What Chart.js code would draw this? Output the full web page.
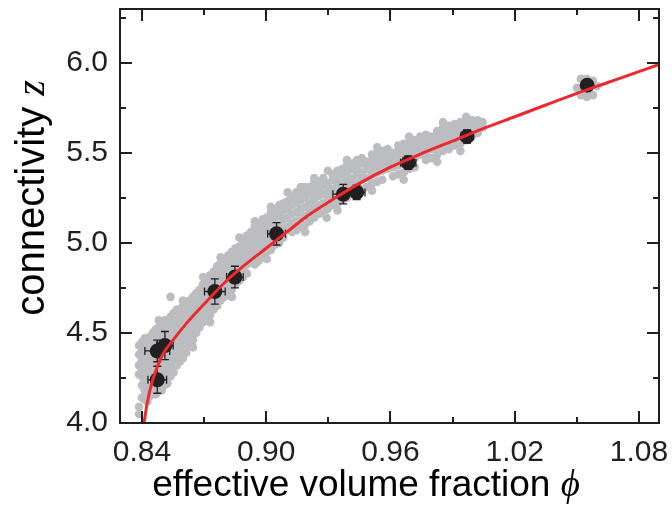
<!DOCTYPE html>
<html>
<head>
<meta charset="utf-8">
<script src="https://cdn.jsdelivr.net/npm/chart.js@4/dist/chart.umd.min.js"></script>
<style>
  html, body { margin: 0; padding: 0; background: #ffffff; }
  #wrap { width: 672px; height: 513px; }
</style>
</head>
<body>
<div id="wrap"><canvas id="c" width="672" height="513"></canvas></div>
<script>
// Axis ticks
const phiTicks = [0.84, 0.90, 0.96, 1.02, 1.08];
const phiMinor = [0.87, 0.93, 0.99, 1.05];
const zTicks = [4.0, 4.5, 5.0, 5.5, 6.0];
const zMinor = [4.25, 4.75, 5.25, 5.75, 6.25];

// Ensemble averages with their spread
const meanPhi = [0.8474, 0.8474, 0.8511, 0.8752, 0.8849, 0.9050, 0.9372, 0.9437, 0.9686, 0.9970, 1.0550];
const meanZ   = [4.24,   4.40,   4.43,   4.73,   4.81,   5.05,   5.27,   5.28,   5.445,  5.59,   5.875];
const errPhi  = [0.0045, 0.0060, 0.0040, 0.0050, 0.0040, 0.0043, 0.0050, 0.0040, 0.0037, 0.0030, 0.0015];
const errZ    = [0.075,  0.060,  0.078,  0.070,  0.060,  0.062,  0.054,  0.040,  0.037,  0.037,  0.015];

// Fitted connectivity curve
const fitPhi = [0.8410, 0.8425, 0.8445, 0.8470, 0.8500, 0.8550, 0.8620, 0.8700, 0.8800, 0.8900, 0.9000,
                0.9100, 0.9200, 0.9300, 0.9450, 0.9600, 0.9750, 0.9900, 1.0050, 1.0200, 1.0350, 1.0500,
                1.0650, 1.0800, 1.0897];
const fitZ   = [4.00, 4.11, 4.21, 4.30, 4.38, 4.46, 4.56, 4.66, 4.78, 4.88, 4.97,
                5.06, 5.15, 5.225, 5.33, 5.42, 5.495, 5.565, 5.635, 5.70, 5.765, 5.83,
                5.89, 5.95, 5.99];

// Individual packings, grouped by volume fraction: [phi, [z, z, ...]]
const cloud = [
  [0.8386, [4.05, 4.09, 4.27, 4.32, 4.38, 4.43]],
  [0.8400, [4.14, 4.21, 4.26, 4.30, 4.35, 4.40, 4.45]],
  [0.8413, [4.13, 4.18, 4.23, 4.28, 4.33, 4.38, 4.43, 4.47]],
  [0.8426, [4.12, 4.16, 4.21, 4.26, 4.30, 4.35, 4.40, 4.46]],
  [0.8440, [4.15, 4.19, 4.24, 4.29, 4.34, 4.38, 4.43, 4.48]],
  [0.8453, [4.17, 4.22, 4.27, 4.31, 4.36, 4.41, 4.46, 4.50]],
  [0.8467, [4.16, 4.20, 4.25, 4.30, 4.34, 4.39, 4.44, 4.49, 4.52]],
  [0.8481, [4.19, 4.23, 4.28, 4.33, 4.37, 4.42, 4.47, 4.53, 4.57]],
  [0.8495, [4.18, 4.22, 4.26, 4.31, 4.36, 4.41, 4.45, 4.50, 4.55]],
  [0.8509, [4.21, 4.25, 4.30, 4.35, 4.39, 4.44, 4.49, 4.53, 4.57]],
  [0.8523, [4.22, 4.27, 4.32, 4.37, 4.42, 4.47, 4.51, 4.56]],
  [0.8538, [4.26, 4.30, 4.35, 4.40, 4.45, 4.50, 4.55, 4.59, 4.70]],
  [0.8553, [4.28, 4.33, 4.38, 4.43, 4.48, 4.53, 4.57, 4.61]],
  [0.8568, [4.32, 4.36, 4.41, 4.46, 4.51, 4.56, 4.60, 4.63]],
  [0.8583, [4.34, 4.39, 4.44, 4.49, 4.54, 4.58, 4.62]],
  [0.8598, [4.36, 4.41, 4.46, 4.51, 4.56, 4.61, 4.65, 4.68]],
  [0.8614, [4.39, 4.44, 4.49, 4.54, 4.59, 4.63, 4.66]],
  [0.8630, [4.43, 4.48, 4.53, 4.58, 4.63, 4.68]],
  [0.8646, [4.42, 4.46, 4.51, 4.56, 4.61, 4.65, 4.70]],
  [0.8662, [4.50, 4.55, 4.60, 4.65, 4.69, 4.72]],
  [0.8678, [4.53, 4.58, 4.63, 4.68, 4.74]],
  [0.8695, [4.56, 4.60, 4.65, 4.70, 4.74, 4.77, 4.81]],
  [0.8712, [4.58, 4.63, 4.68, 4.73, 4.79]],
  [0.8729, [4.56, 4.60, 4.65, 4.70, 4.75, 4.80, 4.82]],
  [0.8746, [4.63, 4.68, 4.73, 4.78, 4.84]],
  [0.8763, [4.65, 4.70, 4.75, 4.80, 4.85, 4.87]],
  [0.8780, [4.68, 4.73, 4.78, 4.83, 4.89, 4.92]],
  [0.8798, [4.70, 4.75, 4.80, 4.85, 4.89, 4.91]],
  [0.8816, [4.72, 4.77, 4.82, 4.87, 4.93]],
  [0.8834, [4.70, 4.74, 4.79, 4.84, 4.89, 4.93, 4.95]],
  [0.8852, [4.77, 4.82, 4.87, 4.92, 4.97]],
  [0.8870, [4.79, 4.84, 4.89, 4.94, 4.98, 5.03]],
  [0.8888, [4.81, 4.86, 4.91, 4.96, 5.01]],
  [0.8907, [4.83, 4.88, 4.93, 4.98, 5.02, 5.04]],
  [0.8926, [4.91, 4.96, 5.01, 5.06]],
  [0.8945, [4.88, 4.93, 4.98, 5.03, 5.07, 5.09, 5.12]],
  [0.8964, [4.90, 4.95, 5.00, 5.05, 5.10]],
  [0.8983, [4.92, 4.97, 5.02, 5.07, 5.11, 5.13]],
  [0.9003, [4.91, 4.95, 5.00, 5.05, 5.10, 5.14]],
  [0.9023, [4.96, 5.01, 5.06, 5.11, 5.15, 5.17, 5.20]],
  [0.9043, [4.99, 5.04, 5.09, 5.14, 5.18]],
  [0.9063, [5.00, 5.05, 5.10, 5.15, 5.19, 5.21]],
  [0.9083, [5.03, 5.08, 5.13, 5.18, 5.22]],
  [0.9104, [5.09, 5.14, 5.19, 5.23, 5.28]],
  [0.9125, [5.06, 5.11, 5.16, 5.21, 5.25]],
  [0.9146, [5.07, 5.12, 5.17, 5.22, 5.26, 5.28]],
  [0.9167, [5.09, 5.14, 5.19, 5.24, 5.28, 5.31]],
  [0.9188, [5.06, 5.10, 5.15, 5.20, 5.25, 5.29, 5.31]],
  [0.9210, [5.12, 5.17, 5.22, 5.27, 5.31]],
  [0.9232, [5.14, 5.19, 5.24, 5.29, 5.33, 5.36]],
  [0.9254, [5.16, 5.21, 5.26, 5.30, 5.34]],
  [0.9276, [5.17, 5.22, 5.27, 5.32, 5.36]],
  [0.9292, [5.14]],
  [0.9298, [5.19, 5.24, 5.29, 5.33, 5.40]],
  [0.9321, [5.21, 5.26, 5.30, 5.35, 5.38]],
  [0.9344, [5.18, 5.22, 5.27, 5.32, 5.36, 5.40]],
  [0.9367, [5.24, 5.29, 5.33, 5.38, 5.41]],
  [0.9390, [5.25, 5.30, 5.35, 5.39, 5.43, 5.46]],
  [0.9414, [5.32, 5.36, 5.41, 5.44]],
  [0.9438, [5.28, 5.33, 5.38, 5.42, 5.46]],
  [0.9462, [5.30, 5.35, 5.39, 5.44, 5.47]],
  [0.9486, [5.31, 5.36, 5.41, 5.45]],
  [0.9511, [5.29, 5.33, 5.38, 5.42, 5.46, 5.49]],
  [0.9536, [5.34, 5.39, 5.43, 5.47, 5.50, 5.53]],
  [0.9561, [5.35, 5.40, 5.44, 5.48, 5.51]],
  [0.9586, [5.41, 5.45, 5.49, 5.52]],
  [0.9612, [5.37, 5.42, 5.46, 5.50]],
  [0.9638, [5.38, 5.43, 5.47, 5.51, 5.54]],
  [0.9664, [5.35, 5.39, 5.44, 5.48, 5.52, 5.55]],
  [0.9690, [5.41, 5.45, 5.50, 5.53, 5.56, 5.59]],
  [0.9717, [5.42, 5.47, 5.51, 5.55, 5.57]],
  [0.9744, [5.49, 5.53, 5.56, 5.59]],
  [0.9771, [5.46, 5.50, 5.54, 5.57, 5.60]],
  [0.9798, [5.47, 5.52, 5.56, 5.59]],
  [0.9826, [5.45, 5.49, 5.53, 5.57, 5.60, 5.62]],
  [0.9854, [5.51, 5.55, 5.59, 5.62, 5.64, 5.67]],
  [0.9882, [5.52, 5.56, 5.60, 5.63, 5.65]],
  [0.9910, [5.54, 5.58, 5.62, 5.64, 5.66]],
  [0.9938, [5.51, 5.55, 5.59, 5.63, 5.66, 5.67]],
  [0.9966, [5.57, 5.61, 5.64, 5.67, 5.70]],
  [0.9994, [5.59, 5.63, 5.66, 5.68]],
  [1.0022, [5.61, 5.65, 5.68]],
  [1.0045, [5.64, 5.67]],
  [1.0501, [5.86]],
  [1.0520, [5.82, 5.91]],
  [1.0549, [5.81, 5.91]],
  [1.0578, [5.82, 5.90]],
  [1.0597, [5.87]]
];

const INK = '#231f20';
const SANS = '"Liberation Sans", Arial, Helvetica, sans-serif';
const SERIF = '"Liberation Serif", "Times New Roman", serif';

// Error bars for the averaged points, drawn beneath the fit line
const errorBars = {
  id: 'errorBars',
  beforeDatasetDraw(chart, args) {
    if (args.index !== 1) return;
    const { ctx, scales: { x, y } } = chart;
    ctx.save();
    ctx.strokeStyle = INK;
    ctx.lineWidth = 1.3;
    const cap = 4;
    meanPhi.forEach((p, i) => {
      const px = x.getPixelForValue(p), py = y.getPixelForValue(meanZ[i]);
      const x0 = x.getPixelForValue(p - errPhi[i]), x1 = x.getPixelForValue(p + errPhi[i]);
      const y0 = y.getPixelForValue(meanZ[i] - errZ[i]), y1 = y.getPixelForValue(meanZ[i] + errZ[i]);
      ctx.beginPath();
      ctx.moveTo(x0, py); ctx.lineTo(x1, py);
      ctx.moveTo(x0, py - cap); ctx.lineTo(x0, py + cap);
      ctx.moveTo(x1, py - cap); ctx.lineTo(x1, py + cap);
      ctx.moveTo(px, y0); ctx.lineTo(px, y1);
      ctx.moveTo(px - cap, y0); ctx.lineTo(px + cap, y0);
      ctx.moveTo(px - cap, y1); ctx.lineTo(px + cap, y1);
      ctx.stroke();
    });
    ctx.restore();
  }
};

// Draws a label made of a roman part followed by an italic symbol
function mixedText(ctx, plain, sym, cx, cy, size) {
  ctx.font = size + 'px ' + SANS;
  const w1 = ctx.measureText(plain).width;
  ctx.font = 'italic ' + size + 'px ' + SERIF;
  const w2 = ctx.measureText(sym).width;
  const sx = cx - (w1 + w2) / 2;
  ctx.textAlign = 'left';
  ctx.textBaseline = 'alphabetic';
  ctx.font = size + 'px ' + SANS;
  ctx.fillText(plain, sx, cy);
  ctx.font = 'italic ' + size + 'px ' + SERIF;
  ctx.fillText(sym, sx + w1, cy);
}

// Box frame, inward tick marks on all four sides, and axis titles
const frame = {
  id: 'frame',
  afterDraw(chart) {
    const { ctx, chartArea: a, scales: { x, y } } = chart;
    ctx.save();
    ctx.strokeStyle = INK;
    ctx.lineWidth = 2;
    ctx.strokeRect(a.left, a.top, a.right - a.left, a.bottom - a.top);
    ctx.beginPath();
    const major = 12, minor = 6;
    const xt = (v, len) => {
      const px = Math.round(x.getPixelForValue(v));
      ctx.moveTo(px, a.bottom); ctx.lineTo(px, a.bottom - len);
      ctx.moveTo(px, a.top); ctx.lineTo(px, a.top + len);
    };
    const yt = (v, len) => {
      const py = Math.round(y.getPixelForValue(v));
      ctx.moveTo(a.left, py); ctx.lineTo(a.left + len, py);
      ctx.moveTo(a.right, py); ctx.lineTo(a.right - len, py);
    };
    phiTicks.forEach(v => xt(v, major));
    phiMinor.forEach(v => xt(v, minor));
    zTicks.forEach(v => yt(v, major));
    zMinor.forEach(v => yt(v, minor));
    ctx.stroke();

    ctx.fillStyle = '#000';
    mixedText(ctx, 'effective volume fraction ', 'ϕ', 366, 496, 37);

    ctx.save();
    ctx.translate(44, 198);
    ctx.rotate(-Math.PI / 2);
    mixedText(ctx, 'connectivity ', 'z', 0, 0, 40);
    ctx.restore();
    ctx.restore();
  }
};

const cloudPoints = [];
cloud.forEach(([p, zs]) => zs.forEach(z => cloudPoints.push({ x: p, y: z })));

new Chart(document.getElementById('c'), {
  type: 'scatter',
  data: {
    datasets: [
      {
        label: 'packings',
        data: cloudPoints,
        backgroundColor: '#bcbdc1',
        borderWidth: 0,
        pointRadius: 4.3,
        order: 3
      },
      {
        label: 'averages',
        data: meanPhi.map((p, i) => ({ x: p, y: meanZ[i] })),
        backgroundColor: INK,
        borderWidth: 0,
        pointRadius: 7.5,
        order: 2
      },
      {
        type: 'line',
        label: 'fit',
        data: fitPhi.map((p, i) => ({ x: p, y: fitZ[i] })),
        borderColor: '#ec2a2e',
        borderWidth: 3,
        pointRadius: 0,
        fill: false,
        cubicInterpolationMode: 'monotone',
        order: 1
      }
    ]
  },
  options: {
    responsive: false,
    animation: false,
    events: [],
    layout: { padding: { left: 0, top: 9, right: 13, bottom: 0 } },
    plugins: { legend: { display: false }, tooltip: { enabled: false } },
    scales: {
      x: {
        type: 'linear',
        min: 0.8294, max: 1.0897,
        grid: { display: false, drawTicks: false },
        border: { display: false },
        afterBuildTicks: s => { s.ticks = phiTicks.map(v => ({ value: v })); },
        afterFit: s => { s.height = 90; s.paddingLeft = 0; s.paddingRight = 0; },
        ticks: {
          padding: 12,
          color: INK,
          font: { family: SANS, size: 30 },
          callback: v => v.toFixed(2)
        }
      },
      y: {
        type: 'linear',
        min: 4.0, max: 6.298,
        grid: { display: false, drawTicks: false },
        border: { display: false },
        afterBuildTicks: s => { s.ticks = zTicks.map(v => ({ value: v })); },
        afterFit: s => { s.width = 120; s.paddingTop = 0; s.paddingBottom = 0; },
        ticks: {
          padding: 12,
          color: INK,
          font: { family: SANS, size: 30 },
          callback: v => v.toFixed(1)
        }
      }
    }
  },
  plugins: [errorBars, frame]
});
</script>
</body>
</html>
